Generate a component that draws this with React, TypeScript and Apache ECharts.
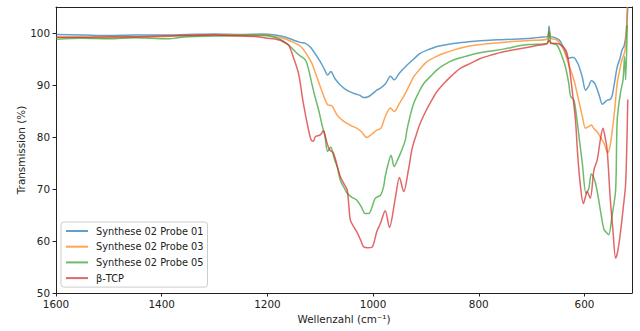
import React, { useEffect, useRef } from "react";
import * as echarts from "echarts";

const seriesNames = ["Synthese 02 Probe 01", "Synthese 02 Probe 03", "Synthese 02 Probe 05", "β-TCP"];
const seriesColors = ["#1f77b4", "#ff7f0e", "#2ca02c", "#d62728"];

const xTickValues = [1600, 1400, 1200, 1000, 800, 600];
const yTickValues = [50, 60, 70, 80, 90, 100];

const probe01Wn = [1600,1550,1500,1450,1400,1350,1300,1250,1210,1185,1165,1150,1138,1128,1118,1100,1092,1086,1080,1072,1062,1050,1037,1025,1018,1010,1000,993,986,976,967,960,950,936,922,911,895,879,848,820,797,765,734,700,683,670,667,664,658,650,645,638,630,625,620,615,611,604,598,592,587,583,579,572,566,561,557,552,548,543,538,533,529,525,521,518];
const probe01T = [99.7,99.6,99.5,99.6,99.6,99.7,99.8,99.7,99.8,99.6,99.2,98.6,98.2,98.0,97.2,94.5,93.0,91.9,92.6,91.2,90.0,89.0,88.4,88.0,87.6,87.7,88.4,89.0,89.4,90.3,91.7,91.0,92.3,93.8,95.1,96.1,96.8,97.4,98.0,98.3,98.5,98.7,98.8,99.0,99.2,99.3,101.3,99.3,99.2,98.8,98.3,96.8,95.1,95.3,95.3,94.6,93.8,91.5,89.0,89.8,90.8,90.6,90.0,88.0,86.3,86.7,87.1,87.2,87.8,90.5,93.5,95.0,96.7,97.5,100,105];

const probe03Wn = [1600,1550,1500,1450,1400,1350,1300,1250,1210,1190,1170,1155,1141,1135,1126,1116,1108,1100,1092,1086,1078,1068,1058,1049,1040,1031,1022,1012,1003,993,985,977,967,960,950,942,932,923,910,898,880,866,845,822,795,765,730,696,671,667,664,655,648,639,630,620,611,604,598,592,587,582,576,570,563,556,552,548,543,538,533,529,523,519];
const probe03T = [99.2,99.2,99.1,99.2,99.3,99.5,99.6,99.6,99.6,99.4,99.0,98.4,97.7,97.2,96.0,94.2,92.0,89.7,87.5,86.2,86.0,84.2,83.2,82.6,82.1,81.7,81.0,79.9,80.5,81.3,81.7,83.9,85.6,84.9,86.5,87.8,89.8,91.6,93.2,94.5,95.5,96.1,96.8,97.4,97.8,98.1,98.4,98.6,98.8,100.5,98.9,98.8,98.2,96.7,94.0,91.0,87.1,84.0,81.7,82.0,82.3,81.6,81.0,80.0,78.8,77.0,78.0,80.7,85.0,90.3,93.0,94.8,96.7,105];

const probe05Wn = [1600,1550,1500,1450,1420,1385,1370,1350,1300,1250,1210,1190,1176,1160,1147,1138,1128,1122,1116,1110,1103,1097,1091,1086,1080,1074,1068,1062,1055,1049,1040,1031,1022,1015,1008,1002,996,986,980,977,971,966,960,954,948,939,936,930,923,914,904,890,879,865,848,825,803,780,753,721,700,671,667,664,661,652,642,636,630,626,620,615,611,604,597,592,587,583,579,574,570,563,558,554,548,541,538,532,527,524,522,519];
const probe05T = [98.8,99.0,98.9,99.1,99.0,98.9,99.1,99.3,99.4,99.5,99.5,99.3,98.8,97.7,96.4,95.6,94.8,93.0,90.3,87.8,85.2,82.5,80.1,77.2,78.1,76.0,74.3,71.7,70.3,69.2,68.4,67.9,66.5,65.3,65.3,66.5,68.2,68.8,70.5,72.4,75.0,76.5,74.3,75.5,76.9,79.4,81.3,84.0,86.5,88.5,90.3,91.8,92.9,93.9,94.8,95.5,96.1,96.5,96.9,97.6,97.8,98.0,100.3,98.2,98.0,97.7,95.4,93.5,90.5,87.8,87.1,84.0,80.7,74.9,69.2,70.0,72.9,72.3,71.1,68.5,66.0,62.2,61.6,61.2,64.7,69.8,83.3,88.4,91.0,95.5,91.0,101.5];

const tcpWn = [1600,1550,1500,1450,1400,1350,1300,1250,1220,1200,1188,1176,1168,1160,1151,1141,1132,1122,1117,1113,1109,1100,1094,1090,1087,1082,1075,1068,1062,1055,1049,1046,1043,1037,1031,1024,1018,1010,1002,993,986,977,969,958,950,942,933,926,918,911,900,892,880,866,850,835,815,797,775,753,720,690,671,667,663,652,639,633,628,624,617,613,608,602,598,595,589,582,576,570,565,561,557,551,546,541,537,532,527,522,518];
const tcpT = [99.2,99.2,99.3,99.3,99.4,99.5,99.6,99.4,99.3,99.0,98.9,98.6,98.2,97.7,95.4,92.2,86.5,81.3,79.4,79.2,80.1,80.4,81.2,80.0,78.8,77.5,76.9,74.5,72.4,71.0,69.8,67.0,64.0,62.8,61.8,60.3,58.9,58.7,58.8,61.8,63.4,65.8,62.6,68.2,72.2,69.5,73.7,77.8,80.5,82.6,85.0,86.5,88.6,90.3,91.9,93.2,94.2,95.1,95.8,96.4,97.0,97.6,97.9,98.6,98.0,98.0,97.2,96.1,93.0,89.7,83.3,76.9,71.0,67.2,68.5,69.5,68.2,73.7,75.5,79.4,81.7,80.0,77.5,67.9,62.0,56.7,58.0,61.5,66.0,71.1,87.2];

const seriesWn = [probe01Wn, probe03Wn, probe05Wn, tcpWn];
const seriesT = [probe01T, probe03T, probe05T, tcpT];

const FONT = "DejaVu Sans";
const TEXT = "#222";
const FS = 10.4;

export default function App() {
  const ref = useRef<HTMLDivElement>(null);
  useEffect(() => {
    if (!ref.current) return;
    const chart = echarts.init(ref.current, null, { renderer: "svg" });
    const axisLineStyle = { show: true, lineStyle: { color: "#222", width: 1 } };
    const plain = (v: number) => String(v);
    chart.setOption({
      animation: false,
      backgroundColor: "#fff",
      textStyle: { fontFamily: FONT, color: TEXT },
      grid: { left: 56, right: 8, top: 7, bottom: 38, containLabel: false },
      legend: {
        orient: "vertical",
        left: 61,
        top: 222,
        padding: [3, 4, 3, 4],
        itemWidth: 22,
        itemHeight: 12,
        itemGap: 3.7,
        backgroundColor: "rgba(255,255,255,0.8)",
        borderColor: "#cccccc",
        borderWidth: 1,
        borderRadius: 3,
        data: seriesNames,
        itemStyle: { opacity: 0 },
        textStyle: { fontFamily: FONT, fontSize: 9.8, color: TEXT, padding: [0, 0, 0, 3], lineHeight: 12 },
      },
      xAxis: [
        {
          type: "value",
          inverse: true,
          min: 510,
          max: 1600,
          position: "bottom",
          name: "Wellenzahl (cm⁻¹)",
          nameLocation: "middle",
          nameGap: 20,
          nameTextStyle: { fontFamily: FONT, fontSize: FS, color: TEXT },
          axisLine: axisLineStyle,
          axisTick: { show: true, inside: false, length: 3.5, lineStyle: { color: "#222" }, customValues: xTickValues },
          axisLabel: { show: true, margin: 6, fontFamily: FONT, fontSize: FS, color: TEXT, customValues: xTickValues, formatter: plain },
          splitLine: { show: false },
        },
        {
          type: "value",
          inverse: true,
          min: 510,
          max: 1600,
          position: "top",
          axisLine: axisLineStyle,
          axisTick: { show: false },
          axisLabel: { show: false },
          splitLine: { show: false },
        },
      ],
      yAxis: [
        {
          type: "value",
          min: 50,
          max: 105,
          position: "left",
          name: "Transmission (%)",
          nameLocation: "middle",
          nameGap: 30,
          nameMoveOverlap: false,
          nameTextStyle: { fontFamily: FONT, fontSize: FS, color: TEXT },
          axisLine: axisLineStyle,
          axisTick: { show: true, inside: false, length: 3.5, lineStyle: { color: "#222" }, customValues: yTickValues },
          axisLabel: { show: true, margin: 6, fontFamily: FONT, fontSize: FS, color: TEXT, customValues: yTickValues, formatter: plain },
          splitLine: { show: false },
        },
        {
          type: "value",
          min: 50,
          max: 105,
          position: "right",
          axisLine: axisLineStyle,
          axisTick: { show: false },
          axisLabel: { show: false },
          splitLine: { show: false },
        },
      ],
      series: seriesNames.map((name, i) => ({
        name,
        type: "line",
        xAxisIndex: 0,
        yAxisIndex: 0,
        symbol: "none",
        smooth: 0.3,
        clip: true,
        data: seriesWn[i].map((w, j) => [w, seriesT[i][j]]),
        lineStyle: { color: seriesColors[i], width: 1.5, opacity: 0.7 },
        itemStyle: { color: seriesColors[i], opacity: 0.7 },
      })),
    });
    return () => chart.dispose();
  }, []);
  return (
    <div
      ref={ref}
      style={{ position: "absolute", left: 0, top: 0, width: 640, height: 331 }}
    />
  );
}
